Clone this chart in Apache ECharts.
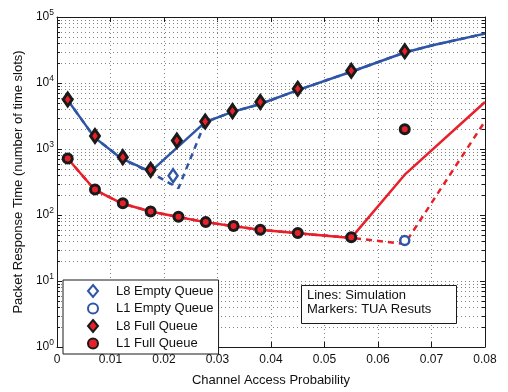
<!DOCTYPE html>
<html><head><meta charset="utf-8">
<script src="https://cdn.jsdelivr.net/npm/echarts@6/dist/echarts.min.js"></script>
<style>html,body{margin:0;padding:0;background:#fff}#c{width:508px;height:392px}</style>
</head><body><div id="c"></div>
<script>
// ---- data ----
const xTicks = [0, 0.01, 0.02, 0.03, 0.04, 0.05, 0.06, 0.07, 0.08];
const yTicks = [1, 10, 100, 1000, 10000, 100000];

// simulation lines
const l8FullLine = [[0.002,5500],[0.007,1500],[0.012,720],[0.0175,455],[0.0277,2550],[0.0328,3650],[0.038,4800],[0.045,7800],[0.055,14800],[0.065,29000],[0.07,37000],[0.08,56000]];
const l8EmptyLine = [[0.002,5500],[0.007,1500],[0.012,720],[0.0175,440],[0.0227,255],[0.0277,2550],[0.0328,3650],[0.038,4800],[0.045,7800],[0.055,14800],[0.065,29000],[0.07,37000],[0.08,56000]];
const l1FullLine = [[0.002,719],[0.007,243],[0.012,151],[0.0175,113],[0.0227,93],[0.0277,78],[0.0328,68],[0.038,59.6],[0.045,53],[0.055,45],[0.065,408],[0.08,5150]];
const l1EmptyLine = [[0.002,719],[0.007,243],[0.012,151],[0.0175,113],[0.0227,93],[0.0277,78],[0.0328,68],[0.038,59.6],[0.045,53],[0.055,45],[0.065,36.5],[0.08,2640]];

// TUA markers
const l8EmptyPts = [[0.0217,394]];
const l1EmptyPts = [[0.065,41]];
const l8FullPts = [[0.002,5630],[0.0071,1570],[0.0123,752],[0.0175,483],[0.0224,1340],[0.0277,2610],[0.0328,3750],[0.038,5150],[0.045,8180],[0.055,15300],[0.065,30200]];
const l1FullPts = [[0.002,719],[0.0071,243],[0.0123,151],[0.0175,113],[0.0227,94],[0.0278,78],[0.033,68],[0.038,59.6],[0.045,53.2],[0.055,45.9],[0.065,1990]];

const legendNames = ['L8 Empty Queue','L1 Empty Queue','L8 Full Queue','L1 Full Queue'];
const noteLines = ['Lines: Simulation','Markers: TUA Resuts'];
const xTitle = 'Channel Access Probability';
const yTitle = 'Packet Response Time (number of time slots)';

// minor log grid positions (2..9 per decade)
const minorVals = [];
for (let k = 0; k < 5; k++) for (let m = 2; m <= 9; m++) minorVals.push([0, m * Math.pow(10, k)]);

const BLUE = '#2e55a6', RED = '#e8202a', BLK = '#1a1a1a';
const FONT = '"Liberation Sans", Arial, Helvetica, sans-serif';
const gridDash = {color:'#808080', width:1, type:[1,3]};

const chart = echarts.init(document.getElementById('c'), null, {renderer:'canvas'});
const base = {min:0, max:0.08, interval:0.01};
chart.setOption({
  animation:false,
  textStyle:{fontFamily:FONT},
  grid:{left:57, top:17, width:428, height:339, containLabel:false},
  xAxis:[
    Object.assign({type:'value', position:'bottom',
      name:xTitle, nameLocation:'middle', nameGap:27,
      nameTextStyle:{fontSize:13, color:'#111', fontFamily:FONT},
      axisLine:{show:true, onZero:false, lineStyle:{color:BLK, width:1}},
      axisTick:{show:true, inside:true, length:5, lineStyle:{color:BLK}},
      axisLabel:{fontSize:12, color:'#111', margin:7, fontFamily:FONT,
        formatter:v => v === 0 ? '0' : v.toFixed(2)},
      splitLine:{show:true, lineStyle:gridDash}}, base),
    Object.assign({type:'value', position:'top',
      axisLine:{show:true, onZero:false, lineStyle:{color:BLK, width:1}},
      axisTick:{show:true, inside:true, length:5, lineStyle:{color:BLK}},
      axisLabel:{show:false}, splitLine:{show:false}}, base)
  ],
  yAxis:[
    {type:'log', logBase:10, min:1, max:100000, position:'left',
      name:yTitle, nameLocation:'middle', nameGap:26,
      nameTextStyle:{fontSize:13, color:'#111', fontFamily:FONT},
      axisLine:{show:true, onZero:false, lineStyle:{color:BLK, width:1}},
      axisTick:{show:true, inside:true, length:5, lineStyle:{color:BLK}},
      axisLabel:{margin:3, color:'#111', fontFamily:FONT,
        formatter:v => '{b|10}{s|' + Math.round(Math.log10(v)) + '}',
        rich:{b:{fontSize:12, color:'#111', fontFamily:FONT},
              s:{fontSize:8.5, color:'#111', fontFamily:FONT, padding:[0,0,8,0]}}},
      splitLine:{show:true, lineStyle:gridDash}},
    {type:'log', logBase:10, min:1, max:100000, position:'right',
      axisLine:{show:true, onZero:false, lineStyle:{color:BLK, width:1}},
      axisTick:{show:true, inside:true, length:5, lineStyle:{color:BLK}},
      axisLabel:{show:false}, splitLine:{show:false}}
  ],
  legend:{
    data:legendNames, orient:'vertical', left:63, top:280,
    backgroundColor:'#fff', borderColor:BLK, borderWidth:1, borderRadius:0,
    padding:[4,5,4,24], itemWidth:10, itemHeight:12, itemGap:4,
    textStyle:{fontSize:13, color:'#111', fontFamily:FONT, padding:[0,0,0,13]},
    selectedMode:false
  },
  graphic:[
    {type:'rect', left:301, top:285, shape:{width:155, height:38}, z:100,
      style:{fill:'#fff', stroke:BLK, lineWidth:1}},
    {type:'text', left:307, top:288, z:101,
      style:{text:noteLines.join('\n'), font:'13px ' + FONT, fill:'#111', lineHeight:14.5}}
  ],
  series:[
    {type:'custom', name:'minor', coordinateSystem:'cartesian2d', silent:true, z:1,
      data:minorVals, clip:true,
      renderItem:(params, api) => {
        const y = Math.round(api.coord([0, api.value(1)])[1]) + 0.5;
        const cs = params.coordSys;
        return {type:'group', children:[
          {type:'line', shape:{x1:cs.x, y1:y, x2:cs.x+cs.width, y2:y}, style:{stroke:'#808080', lineWidth:1, lineDash:[1,3]}},
          {type:'line', shape:{x1:cs.x, y1:y, x2:cs.x+3, y2:y}, style:{stroke:BLK, lineWidth:1}},
          {type:'line', shape:{x1:cs.x+cs.width-3, y1:y, x2:cs.x+cs.width, y2:y}, style:{stroke:BLK, lineWidth:1}}
        ]};
      }},
    {type:'line', name:'l8full', data:l8FullLine, showSymbol:false, z:3,
      lineStyle:{color:BLUE, width:2.5}},
    {type:'line', name:'l8empty', data:l8EmptyLine, showSymbol:false, z:3,
      lineStyle:{color:BLUE, width:2.5, type:[6,5]}},
    {type:'line', name:'l1full', data:l1FullLine, showSymbol:false, z:3,
      lineStyle:{color:RED, width:2.5}},
    {type:'line', name:'l1empty', data:l1EmptyLine, showSymbol:false, z:3,
      lineStyle:{color:RED, width:2.5, type:[6,5]}},
    {type:'scatter', name:'L8 Empty Queue', data:l8EmptyPts, symbol:'diamond', symbolSize:[9,13], z:5,
      itemStyle:{color:'#fff', borderColor:BLUE, borderWidth:2.5, opacity:1}},
    {type:'scatter', name:'L1 Empty Queue', data:l1EmptyPts, symbol:'circle', symbolSize:9, z:5,
      itemStyle:{color:'#fff', borderColor:BLUE, borderWidth:2.5, opacity:1}},
    {type:'scatter', name:'L8 Full Queue', data:l8FullPts, symbol:'diamond', symbolSize:[9,13], z:6,
      itemStyle:{color:RED, borderColor:BLK, borderWidth:3, opacity:1}},
    {type:'scatter', name:'L1 Full Queue', data:l1FullPts, symbol:'circle', symbolSize:9, z:6,
      itemStyle:{color:RED, borderColor:BLK, borderWidth:3, opacity:1}}
  ]
});
</script></body></html>
